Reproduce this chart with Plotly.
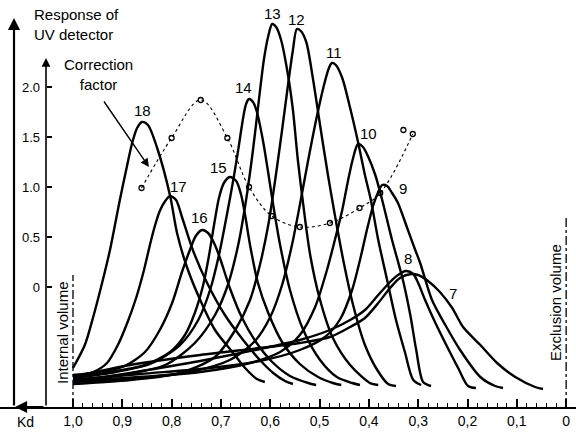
import plotly.graph_objects as go

# ---------------- data ----------------
kd_ticks = [1.0, 0.9, 0.8, 0.7, 0.6, 0.5, 0.4, 0.3, 0.2, 0.1, 0.0]
kd_tick_text = ["1,0", "0,9", "0,8", "0,7", "0,6", "0,5", "0,4", "0,3", "0,2", "0,1", "0"]
cf_ticks = [0, 0.5, 1.0, 1.5, 2.0]
cf_tick_text = ["0", "0.5", "1.0", "1.5", "2.0"]

kd_18 = [1.000, 0.976, 0.959, 0.941, 0.925, 0.905, 0.890, 0.880, 0.870, 0.860, 0.848, 0.828, 0.803, 0.789, 0.769, 0.742, 0.712, 0.677, 0.651, 0.627, 0.611]
r_18 = [0.17, 0.40, 0.68, 1.02, 1.35, 1.85, 2.20, 2.42, 2.57, 2.63, 2.60, 2.35, 1.89, 1.52, 1.18, 0.85, 0.55, 0.33, 0.17, 0.06, 0.03]

kd_17 = [1.000, 0.959, 0.931, 0.909, 0.890, 0.872, 0.856, 0.844, 0.834, 0.824, 0.813, 0.803, 0.791, 0.779, 0.757, 0.728, 0.692, 0.655, 0.621, 0.594, 0.570, 0.554]
r_17 = [0.09, 0.13, 0.22, 0.40, 0.62, 0.87, 1.15, 1.40, 1.59, 1.74, 1.84, 1.89, 1.85, 1.68, 1.35, 1.02, 0.70, 0.45, 0.25, 0.12, 0.04, 0.01]

kd_16 = [1.000, 0.945, 0.895, 0.854, 0.824, 0.799, 0.779, 0.763, 0.751, 0.738, 0.726, 0.714, 0.702, 0.682, 0.657, 0.629, 0.596, 0.560, 0.523, 0.507]
r_16 = [0.10, 0.13, 0.19, 0.33, 0.55, 0.82, 1.13, 1.35, 1.49, 1.55, 1.52, 1.42, 1.27, 0.97, 0.67, 0.43, 0.23, 0.09, 0.02, 0.00]

kd_15 = [1.000, 0.925, 0.854, 0.803, 0.773, 0.753, 0.736, 0.724, 0.714, 0.704, 0.694, 0.682, 0.669, 0.659, 0.651, 0.641, 0.625, 0.604, 0.576, 0.540, 0.503, 0.473, 0.456]
r_15 = [0.09, 0.13, 0.20, 0.33, 0.50, 0.72, 1.00, 1.30, 1.60, 1.87, 2.02, 2.08, 2.04, 1.90, 1.70, 1.40, 1.02, 0.72, 0.43, 0.21, 0.08, 0.02, 0.00]

kd_14 = [1.000, 0.925, 0.844, 0.783, 0.746, 0.722, 0.704, 0.688, 0.675, 0.665, 0.655, 0.649, 0.643, 0.635, 0.627, 0.615, 0.604, 0.594, 0.580, 0.560, 0.533, 0.499, 0.465, 0.434, 0.418]
r_14 = [0.07, 0.12, 0.21, 0.40, 0.65, 0.95, 1.30, 1.70, 2.05, 2.35, 2.67, 2.81, 2.86, 2.83, 2.73, 2.45, 2.12, 1.80, 1.40, 0.95, 0.55, 0.25, 0.08, 0.02, 0.00]

kd_13 = [1.000, 0.905, 0.813, 0.753, 0.712, 0.686, 0.665, 0.649, 0.635, 0.623, 0.613, 0.604, 0.596, 0.588, 0.578, 0.564, 0.554, 0.544, 0.533, 0.519, 0.499, 0.473, 0.438, 0.398, 0.381]
r_13 = [0.05, 0.10, 0.20, 0.42, 0.70, 1.00, 1.40, 1.85, 2.35, 2.85, 3.25, 3.49, 3.61, 3.58, 3.45, 3.10, 2.75, 2.25, 1.80, 1.30, 0.85, 0.47, 0.20, 0.02, 0.00]

kd_12 = [1.000, 0.884, 0.783, 0.712, 0.671, 0.641, 0.621, 0.604, 0.590, 0.576, 0.564, 0.554, 0.546, 0.538, 0.527, 0.513, 0.499, 0.483, 0.469, 0.452, 0.432, 0.408, 0.383, 0.361, 0.345]
r_12 = [0.01, 0.05, 0.12, 0.28, 0.55, 0.85, 1.20, 1.60, 2.05, 2.55, 3.00, 3.35, 3.56, 3.54, 3.43, 3.05, 2.60, 2.10, 1.70, 1.25, 0.80, 0.40, 0.15, 0.01, -0.01]

kd_11 = [1.000, 0.864, 0.763, 0.682, 0.631, 0.600, 0.576, 0.556, 0.540, 0.523, 0.507, 0.491, 0.481, 0.475, 0.467, 0.454, 0.438, 0.422, 0.408, 0.396, 0.381, 0.363, 0.345, 0.327, 0.310, 0.294]
r_11 = [0.03, 0.07, 0.13, 0.25, 0.44, 0.68, 1.00, 1.40, 1.80, 2.25, 2.65, 3.00, 3.17, 3.22, 3.20, 3.07, 2.77, 2.43, 2.10, 1.85, 1.45, 1.05, 0.65, 0.33, 0.05, 0.00]

kd_10 = [1.000, 0.864, 0.742, 0.641, 0.580, 0.540, 0.509, 0.485, 0.469, 0.454, 0.442, 0.432, 0.422, 0.412, 0.402, 0.387, 0.373, 0.353, 0.331, 0.316, 0.304, 0.290, 0.274]
r_10 = [0.04, 0.08, 0.13, 0.22, 0.33, 0.50, 0.78, 1.15, 1.45, 1.75, 2.05, 2.27, 2.41, 2.38, 2.29, 2.10, 1.85, 1.45, 1.05, 0.70, 0.35, 0.03, -0.01]

kd_9 = [1.000, 0.864, 0.722, 0.621, 0.540, 0.489, 0.458, 0.434, 0.418, 0.404, 0.391, 0.381, 0.373, 0.363, 0.353, 0.341, 0.323, 0.306, 0.296, 0.272, 0.245, 0.215, 0.174, 0.144, 0.128]
r_9 = [0.05, 0.11, 0.17, 0.24, 0.35, 0.48, 0.66, 0.95, 1.25, 1.55, 1.80, 1.93, 2.00, 1.99, 1.92, 1.82, 1.58, 1.35, 1.22, 0.85, 0.60, 0.35, 0.08, -0.01, -0.03]

kd_8 = [1.000, 0.884, 0.742, 0.621, 0.540, 0.479, 0.438, 0.408, 0.381, 0.357, 0.341, 0.325, 0.310, 0.300, 0.286, 0.266, 0.241, 0.219, 0.199, 0.183]
r_8 = [0.03, 0.12, 0.24, 0.36, 0.45, 0.55, 0.65, 0.75, 0.90, 1.03, 1.10, 1.14, 1.11, 1.02, 0.85, 0.63, 0.38, 0.17, -0.01, -0.03]

kd_7 = [1.000, 0.884, 0.742, 0.621, 0.540, 0.479, 0.438, 0.408, 0.381, 0.357, 0.337, 0.314, 0.300, 0.280, 0.256, 0.231, 0.209, 0.174, 0.140, 0.103, 0.063, 0.047]
r_7 = [0.08, 0.20, 0.30, 0.37, 0.42, 0.48, 0.58, 0.67, 0.82, 0.97, 1.07, 1.11, 1.10, 1.04, 0.93, 0.77, 0.58, 0.40, 0.22, 0.08, -0.02, -0.04]

# correction factor (open circles, dotted curve)
cf_kd = [0.861, 0.800, 0.741, 0.687, 0.643, 0.597, 0.540, 0.479, 0.419, 0.377, 0.330, 0.311]
cf_val = [0.99, 1.49, 1.87, 1.49, 1.00, 0.71, 0.60, 0.64, 0.79, 0.94, 1.57, 1.53]
cf_on_curve = [True, True, True, True, True, True, True, True, True, True, False, True]

peaks = [
    ("18", kd_18, r_18), ("17", kd_17, r_17), ("16", kd_16, r_16),
    ("15", kd_15, r_15), ("14", kd_14, r_14), ("13", kd_13, r_13),
    ("12", kd_12, r_12), ("11", kd_11, r_11), ("10", kd_10, r_10),
    ("9", kd_9, r_9), ("8", kd_8, r_8), ("7", kd_7, r_7),
]

# label centre offsets from each peak top (pixels) -- style only
label_shift = {
    "18": (0, 12), "17": (8, 10), "16": (-3, 13), "15": (-11, 10),
    "14": (-6, 12), "13": (0, 11), "12": (0, 10), "11": (2, 11),
    "10": (10, 11), "9": (21, -3), "8": (2, 13), "7": (42, -19),
}

FONT = "Liberation Sans, Arial, Helvetica, sans-serif"
W, H = 576, 433
PLOT_H = 407

fig = go.Figure()

for name, kd, r in peaks:
    fig.add_trace(go.Scatter(
        x=kd, y=r, mode="lines", yaxis="y2", showlegend=False, hoverinfo="skip",
        line=dict(color="black", width=2.4, shape="spline", smoothing=0.8),
    ))

fig.add_trace(go.Scatter(
    x=[k for k, f in zip(cf_kd, cf_on_curve) if f],
    y=[v for v, f in zip(cf_val, cf_on_curve) if f],
    mode="lines", yaxis="y", showlegend=False,
    line=dict(color="black", width=1.1, dash="dot", shape="spline", smoothing=1.0),
))
fig.add_trace(go.Scatter(
    x=cf_kd, y=cf_val, mode="markers", yaxis="y", showlegend=False,
    marker=dict(symbol="circle-open", size=5, color="black", line=dict(width=1.3, color="black")),
))

annotations = []
for name, kd, r in peaks:
    i = max(range(len(r)), key=lambda j: r[j])
    dx, dy = label_shift[name]
    annotations.append(dict(
        x=kd[i], y=r[i], xref="x", yref="y2", text=name, showarrow=False,
        xshift=dx, yshift=dy, xanchor="center", yanchor="middle",
        font=dict(size=15, color="black", family=FONT),
    ))

def px(xp):
    return xp / W

def py(yp):
    return 1 - yp / PLOT_H

# axis arrows
annotations += [
    dict(x=px(14), y=py(18), xref="paper", yref="paper", ax=0, ay=389, text="",
         showarrow=True, arrowhead=2, arrowsize=1.1, arrowwidth=2.2, arrowcolor="black"),
    dict(x=px(46), y=py(58), xref="paper", yref="paper", ax=0, ay=349, text="",
         showarrow=True, arrowhead=2, arrowsize=1.1, arrowwidth=1.6, arrowcolor="black"),
    dict(x=px(15), y=0, xref="paper", yref="paper", ax=30, ay=0, text="",
         showarrow=True, arrowhead=2, arrowsize=1.1, arrowwidth=2.2, arrowcolor="black"),
    dict(x=0.846, y=1.20, xref="x", yref="y", ax=-46, ay=-67, text="",
         showarrow=True, arrowhead=2, arrowsize=1.2, arrowwidth=1.4, arrowcolor="black"),
]

# texts
annotations += [
    dict(x=px(32), y=py(24), xref="paper", yref="paper", xanchor="left", yanchor="middle",
         align="left", text="Response of<br>UV detector", showarrow=False,
         font=dict(size=15, color="black", family=FONT)),
    dict(x=px(98), y=py(74), xref="paper", yref="paper", xanchor="center", yanchor="middle",
         align="center", text="Correction<br>factor", showarrow=False,
         font=dict(size=15, color="black", family=FONT)),
    dict(x=px(62), y=py(333), xref="paper", yref="paper", xanchor="center", yanchor="middle",
         text="Internal volume", textangle=-90, showarrow=False,
         font=dict(size=15, color="black", family=FONT)),
    dict(x=px(555), y=py(303), xref="paper", yref="paper", xanchor="center", yanchor="middle",
         text="Exclusion volume", textangle=-90, showarrow=False,
         font=dict(size=15, color="black", family=FONT)),
    dict(x=px(25), y=py(422), xref="paper", yref="paper", xanchor="center", yanchor="middle",
         text="Kd", showarrow=False, font=dict(size=14, color="black", family=FONT)),
]

shapes = [
    dict(type="line", xref="x", yref="y", x0=1.0, x1=1.0, y0=-1.20, y1=0.12,
         line=dict(color="black", width=1.3, dash="dashdot")),
    dict(type="line", xref="x", yref="y", x0=0.0, x1=0.0, y0=-1.20, y1=0.69,
         line=dict(color="black", width=1.3, dash="dashdot")),
]

minor_vals = [round(i * 0.02, 2) for i in range(1, 50) if i % 5]

fig.update_layout(
    width=W, height=H, autosize=False,
    margin=dict(l=0, r=0, t=0, b=H - PLOT_H, pad=0),
    paper_bgcolor="white", plot_bgcolor="white",
    font=dict(family=FONT, color="black"),
    showlegend=False,
    xaxis=dict(
        range=[1.148, -0.020], domain=[0, 1], anchor="y",
        tickmode="array", tickvals=kd_ticks, ticktext=kd_tick_text,
        ticks="inside", ticklen=8, tickwidth=1.5, tickcolor="black",
        minor=dict(tickmode="array", tickvals=minor_vals, ticks="inside", ticklen=4,
                   tickwidth=1, tickcolor="black"),
        showline=True, linecolor="black", linewidth=2,
        showgrid=False, zeroline=False, automargin=False,
        tickfont=dict(size=14, color="black", family=FONT),
    ),
    yaxis=dict(
        range=[-1.20, 2.87], anchor="free", position=px(46), side="left",
        tickmode="array", tickvals=cf_ticks, ticktext=cf_tick_text,
        ticks="inside", ticklen=5, tickwidth=1.5, tickcolor="black",
        ticklabelstandoff=6,
        showline=False, showgrid=False, zeroline=False, automargin=False,
        tickfont=dict(size=13, color="black", family=FONT),
    ),
    yaxis2=dict(
        range=[-0.22, 3.85], overlaying="y", anchor="x", visible=False,
        showgrid=False, zeroline=False,
    ),
    annotations=annotations,
    shapes=shapes,
)

fig.write_html("out.html")
